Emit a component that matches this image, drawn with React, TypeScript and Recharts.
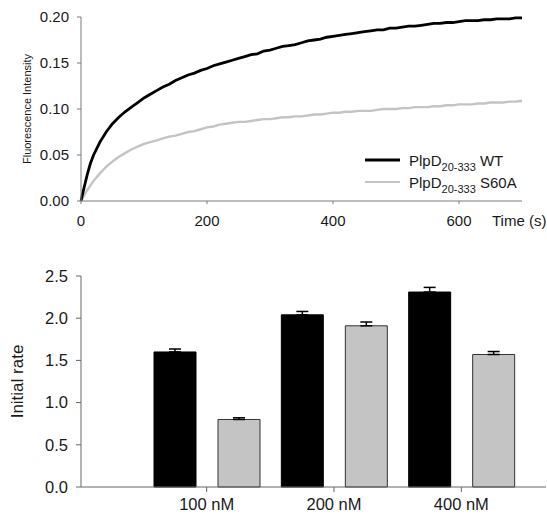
import React from 'react';
import {
  LineChart, Line, XAxis, YAxis, Label,
  BarChart, Bar, ErrorBar,
} from 'recharts';

// ---- Top panel: fluorescence time course ----
const times = [
  0, 5, 10, 15, 20, 30, 40, 50, 60, 70, 80, 90,
  100, 110, 120, 130, 140, 150, 160, 170, 180, 190,
  200, 210, 220, 230, 240, 250, 260, 270, 280, 290,
  300, 310, 320, 330, 340, 350, 360, 370, 380, 390,
  400, 410, 420, 430, 440, 450, 460, 470, 480, 490,
  500, 510, 520, 530, 540, 550, 560, 570, 580, 590,
  600, 610, 620, 630, 640, 650, 660, 670, 680, 690, 700,
];
const wtValues = [
  0.000, 0.015, 0.029, 0.041, 0.050, 0.064, 0.075, 0.084, 0.091, 0.097, 0.102, 0.107,
  0.112, 0.116, 0.120, 0.124, 0.127, 0.131, 0.134, 0.137, 0.139, 0.142,
  0.144, 0.147, 0.149, 0.151, 0.153, 0.155, 0.157, 0.159, 0.160, 0.163,
  0.164, 0.166, 0.168, 0.169, 0.170, 0.172, 0.174, 0.175, 0.176, 0.178,
  0.179, 0.180, 0.181, 0.182, 0.183, 0.184, 0.185, 0.186, 0.186, 0.188,
  0.188, 0.189, 0.190, 0.190, 0.191, 0.192, 0.193, 0.193, 0.194, 0.194,
  0.195, 0.196, 0.196, 0.196, 0.197, 0.197, 0.198, 0.198, 0.198, 0.199, 0.199,
];
const s60aValues = [
  0.000, 0.006, 0.012, 0.017, 0.022, 0.030, 0.037, 0.043, 0.048, 0.052, 0.056, 0.059,
  0.062, 0.064, 0.066, 0.068, 0.070, 0.071, 0.073, 0.075, 0.076, 0.078,
  0.080, 0.081, 0.083, 0.084, 0.085, 0.086, 0.086, 0.087, 0.088, 0.089,
  0.089, 0.090, 0.091, 0.091, 0.092, 0.092, 0.093, 0.094, 0.094, 0.095,
  0.096, 0.096, 0.097, 0.097, 0.098, 0.098, 0.098, 0.099, 0.100, 0.100,
  0.100, 0.101, 0.101, 0.102, 0.102, 0.102, 0.103, 0.103, 0.104, 0.104,
  0.105, 0.105, 0.105, 0.106, 0.106, 0.107, 0.107, 0.107, 0.108, 0.108, 0.109,
];
const timeTicks = [0, 200, 400, 600];
const intensityTicks = [0, 0.05, 0.1, 0.15, 0.2];

// ---- Bottom panel: initial rates ----
const concentrations = ['100 nM', '200 nM', '400 nM'];
const wtRates = [1.60, 2.04, 2.31];
const wtRateErrors = [0.035, 0.04, 0.055];
const s60aRates = [0.80, 1.91, 1.57];
const s60aRateErrors = [0.02, 0.045, 0.035];
const rateTicks = [0, 0.5, 1.0, 1.5, 2.0, 2.5];

const FONT = '"Liberation Sans", Arial, sans-serif';
const AXIS = '#7a7a7a';
const TEXT = '#1a1a1a';

const timeData = times.map((t, i) => ({ t, wt: wtValues[i], s60a: s60aValues[i] }));
const rateData = concentrations.map((c, i) => ({
  c,
  wt: wtRates[i],
  wtErr: [0, wtRateErrors[i]],
  s60a: s60aRates[i],
  s60aErr: [0, s60aRateErrors[i]],
}));

const legendItems = [
  { name: 'WT', color: '#000000', width: 3 },
  { name: 'S60A', color: '#c4c4c4', width: 2 },
];

function CurveLegend() {
  return (
    <div style={{ fontFamily: FONT, color: TEXT }}>
      {legendItems.map((it) => (
        <div key={it.name} style={{ display: 'flex', alignItems: 'center', height: 22 }}>
          <svg width={35} height={10} style={{ marginRight: 9 }}>
            <line x1={0} y1={5} x2={35} y2={5} stroke={it.color} strokeWidth={it.width} />
          </svg>
          <span style={{ fontSize: 15, lineHeight: '15px', whiteSpace: 'nowrap' }}>
            PlpD<sub style={{ fontSize: 11, verticalAlign: '-5px', lineHeight: 0 }}>20-333</sub> {it.name}
          </span>
        </div>
      ))}
    </div>
  );
}

export default function App() {
  return (
    <div style={{ position: 'absolute', left: 0, top: 0, width: 547, height: 522, background: '#fff', fontFamily: FONT }}>
      <div style={{ position: 'absolute', left: 0, top: 0 }}>
        <LineChart width={547} height={232} data={timeData} margin={{ top: 17, right: 25, bottom: 0, left: 0 }}>
          <XAxis
            dataKey="t"
            type="number"
            domain={[0, 700]}
            ticks={timeTicks}
            stroke={AXIS}
            tickSize={3}
            tickMargin={11}
            height={31}
            tick={{ fill: TEXT, fontSize: 15, fontFamily: FONT }}
          >
            <Label
              content={() => (
                <text x={492} y={226} fill={TEXT} fontSize={15} fontFamily={FONT}>Time (s)</text>
              )}
            />
          </XAxis>
          <YAxis
            type="number"
            domain={[0, 0.2]}
            ticks={intensityTicks}
            tickFormatter={(v: number) => v.toFixed(2)}
            stroke={AXIS}
            tickSize={4}
            tickMargin={8}
            width={81}
            tick={{ fill: TEXT, fontSize: 15, fontFamily: FONT }}
          >
            <Label
              value="Fluorescence Intensity"
              angle={-90}
              position="insideLeft"
              offset={27}
              style={{ textAnchor: 'middle', fill: TEXT, fontSize: 11, fontFamily: FONT }}
            />
          </YAxis>
          <Line dataKey="s60a" stroke="#c4c4c4" strokeWidth={2.4} dot={false} isAnimationActive={false} />
          <Line dataKey="wt" stroke="#000000" strokeWidth={2.8} dot={false} isAnimationActive={false} />
        </LineChart>
      </div>
      <div style={{ position: 'absolute', left: 365, top: 149, width: 182 }}>
        <CurveLegend />
      </div>
      <div style={{ position: 'absolute', left: 0, top: 250 }}>
        <BarChart
          width={547}
          height={272}
          data={rateData}
          margin={{ top: 26, right: 1, bottom: 0, left: 0 }}
          barSize={42}
          barGap={22}
        >
          <XAxis
            dataKey="c"
            stroke="#666"
            tickSize={5}
            tickMargin={6}
            height={35}
            padding={{ left: 62, right: 21 }}
            tick={{ fill: TEXT, fontSize: 16.5, fontFamily: FONT }}
          />
          <YAxis
            type="number"
            domain={[0, 2.5]}
            ticks={rateTicks}
            tickFormatter={(v: number) => v.toFixed(1)}
            stroke="#666"
            tickSize={5}
            tickMargin={8}
            width={81}
            tick={{ fill: TEXT, fontSize: 16.5, fontFamily: FONT }}
          >
            <Label
              value="Initial rate"
              angle={-90}
              position="insideLeft"
              offset={16.5}
              style={{ textAnchor: 'middle', fill: TEXT, fontSize: 17, fontFamily: FONT }}
            />
          </YAxis>
          <Bar dataKey="wt" fill="#000000" stroke="#000000" strokeWidth={1} isAnimationActive={false}>
            <ErrorBar dataKey="wtErr" width={6} stroke="#000" strokeWidth={1.5} isAnimationActive={false} />
          </Bar>
          <Bar dataKey="s60a" fill="#c4c4c4" stroke="#333" strokeWidth={1} isAnimationActive={false}>
            <ErrorBar dataKey="s60aErr" width={6} stroke="#000" strokeWidth={1.5} isAnimationActive={false} />
          </Bar>
        </BarChart>
      </div>
    </div>
  );
}
